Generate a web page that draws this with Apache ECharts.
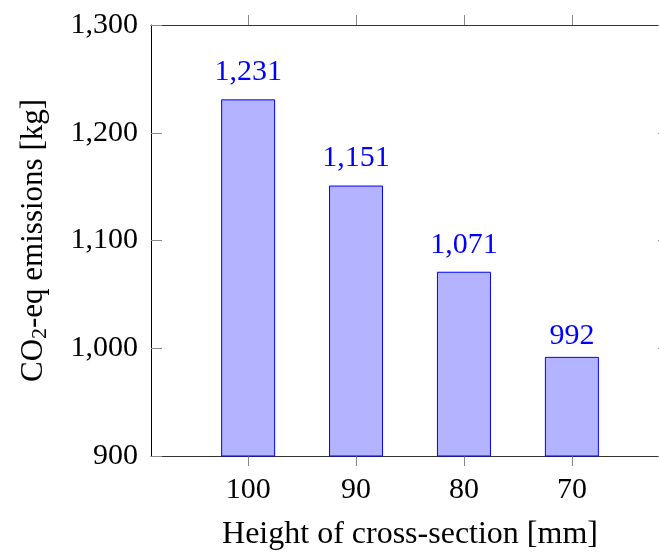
<!DOCTYPE html>
<html>
<head>
<meta charset="utf-8">
<script src="https://cdn.jsdelivr.net/npm/echarts@6/dist/echarts.min.js"></script>
<style>
html,body{margin:0;padding:0;background:#fff;}
#chart{width:659px;height:552px;}
</style>
</head>
<body>
<div id="chart"></div>
<script>
// Data
var categories = ['100', '90', '80', '70'];
var emissions = [1231, 1151, 1071, 992];
var yTicks = [900, 1000, 1100, 1200, 1300];
var xLimits = [61, 109];

var FONT = '"Liberation Serif", "Times New Roman", serif';
var FS = 30;
function fmt(v) { return String(v).replace(/\B(?=(\d{3})+(?!\d))/g, ','); }
var xVals = categories.map(Number);

var chart = echarts.init(document.getElementById('chart'), null, {renderer: 'canvas'});
var tickStyleX = {show: true, inside: false, length: 10, lineStyle: {color: '#888', width: 1}, customValues: xVals};
var tickStyleY = {show: true, inside: true, length: 11, lineStyle: {color: '#888', width: 1}};
var lineStyle = {color: '#333', width: 1};

// labels with a comma sit higher (the comma's descender deepens the label box)
var barData = xVals.map(function (x, i) {
  var txt = fmt(emissions[i]);
  return {value: [x, emissions[i]], label: {distance: txt.indexOf(',') >= 0 ? 12 : 5.5}};
});

chart.setOption({
  animation: false,
  backgroundColor: '#fff',
  grid: {left: 151, top: 25, width: 518, height: 431, containLabel: false, outerBoundsMode: 'none'},
  xAxis: [{
    type: 'value', inverse: true, min: xLimits[0], max: xLimits[1], position: 'bottom',
    axisLine: {show: true, onZero: false, lineStyle: lineStyle},
    axisTick: tickStyleX,
    splitLine: {show: false},
    axisLabel: {show: true, customValues: xVals, margin: 19, color: '#000', fontFamily: FONT, fontSize: FS,
      formatter: function (v) { return String(v); }},
    name: 'Height of cross-section [mm]', nameLocation: 'middle', nameGap: 63,
    nameTextStyle: {color: '#000', fontFamily: FONT, fontSize: 32}
  }, {
    type: 'value', inverse: true, min: xLimits[0], max: xLimits[1], position: 'top',
    axisLine: {show: true, onZero: false, lineStyle: lineStyle},
    axisTick: tickStyleX,
    splitLine: {show: false},
    axisLabel: {show: false}
  }],
  yAxis: [{
    type: 'value', min: yTicks[0], max: yTicks[yTicks.length - 1], interval: 100, position: 'left',
    axisLine: {show: true, onZero: false, lineStyle: {color: '#000', width: 1}},
    axisTick: tickStyleY,
    splitLine: {show: false},
    axisLabel: {show: true, margin: 13, color: '#000', fontFamily: FONT, fontSize: FS, formatter: fmt},
    name: 'CO{sub|2}-eq emissions [kg]', nameLocation: 'middle', nameGap: 100, nameRotate: 90,
    nameTextStyle: {color: '#000', fontFamily: FONT, fontSize: 31,
      rich: {sub: {fontFamily: FONT, fontSize: 22, color: '#000', padding: [12, 0, 0, 0]}}}
  }, {
    type: 'value', min: yTicks[0], max: yTicks[yTicks.length - 1], interval: 100, position: 'right',
    axisLine: {show: true, onZero: false, lineStyle: lineStyle},
    axisTick: tickStyleY,
    splitLine: {show: false},
    axisLabel: {show: false}
  }],
  series: [{
    type: 'bar',
    xAxisIndex: 0, yAxisIndex: 0,
    barWidth: 54,
    clip: true,
    data: barData,
    itemStyle: {color: '#b3b3ff', borderColor: '#0000ff', borderWidth: 1},
    label: {show: true, position: 'top', distance: 12, color: '#0000ff', fontFamily: FONT, fontSize: FS,
      formatter: function (p) { return fmt(p.value[1]); }}
  }]
});
</script>
</body>
</html>
